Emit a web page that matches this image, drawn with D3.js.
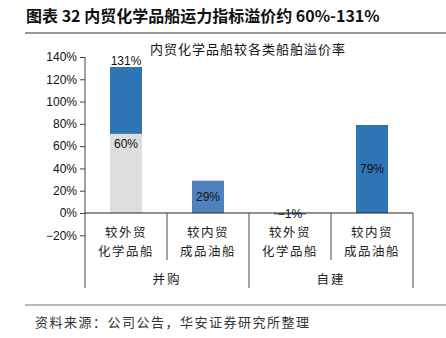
<!DOCTYPE html>
<html>
<head>
<meta charset="utf-8">
<script src="https://cdn.jsdelivr.net/npm/d3@7"></script>
<style>
  html, body { margin: 0; padding: 0; background: #fff; }
  svg { display: block; }
</style>
</head>
<body>
<svg id="chart" width="446" height="338"></svg>
<script>
// Premium of domestic chemical tankers over other vessel types
const categories = ["较外贸\n化学品船", "较内贸\n成品油船", "较外贸\n化学品船", "较内贸\n成品油船"];
const groups = ["并购", "自建"];
const groupOf = [0, 0, 1, 1];
const baseValues = [71, 0, 0, 0];      // grey lower segment
const premiumValues = [60, 29, -1, 79]; // blue segment
const barColors = ["#2e75b6", "#4f81bd", "#5b8fd0", "#2e75b6"];
const yTicks = [-20, 0, 20, 40, 60, 80, 100, 120, 140];

const svg = d3.select("#chart");
const cjk = "'Noto Sans CJK SC', 'Noto Sans', sans-serif";
const latin = "'Liberation Sans', Arial, sans-serif";

// Header
svg.append("text")
  .attr("x", 26).attr("y", 22)
  .attr("font-family", cjk).attr("font-weight", "bold")
  .attr("font-size", 16).attr("fill", "#111")
  .text("图表 32 内贸化学品船运力指标溢价约 60%-131%");
svg.append("line")
  .attr("x1", 25).attr("x2", 446).attr("y1", 33).attr("y2", 33)
  .attr("stroke", "#333").attr("stroke-width", 1.2);

// Footer
svg.append("line")
  .attr("x1", 25).attr("x2", 446).attr("y1", 305).attr("y2", 305)
  .attr("stroke", "#777").attr("stroke-width", 1.2);
svg.append("text")
  .attr("x", 35).attr("y", 327)
  .attr("font-family", cjk).attr("font-size", 13).attr("fill", "#333")
  .attr("letter-spacing", 1.5)
  .text("资料来源：公司公告，华安证券研究所整理");

// Chart title
svg.append("text")
  .attr("x", 248).attr("y", 54).attr("text-anchor", "middle")
  .attr("font-family", cjk).attr("font-size", 13).attr("fill", "#111")
  .attr("letter-spacing", 1)
  .text("内贸化学品船较各类船舶溢价率");

const x = d3.scaleBand().domain(d3.range(categories.length)).range([85, 413]).paddingInner(0).paddingOuter(0);
const y = d3.scaleLinear().domain([-20, 140]).range([235.3, 57]);
const barW = 32;

// Y axis
const yAxis = d3.axisLeft(y).tickValues(yTicks).tickSize(5).tickPadding(3)
  .tickFormat(d => (d < 0 ? "\u2212" + Math.abs(d) : d) + "%");
const gy = svg.append("g").attr("transform", "translate(85,0)").call(yAxis);
gy.select(".domain").remove();
gy.selectAll(".tick line").attr("stroke", "#444");
gy.selectAll(".tick text").attr("font-family", latin).attr("font-size", 12).attr("fill", "#111");
svg.append("line").attr("x1", 85).attr("x2", 85).attr("y1", y(140)).attr("y2", 288)
  .attr("stroke", "#444").attr("stroke-width", 1);

// Bars
const idx = d3.range(categories.length);
const cx = i => x(i) + x.bandwidth() / 2;
svg.selectAll("rect.base").data(idx.filter(i => baseValues[i] > 0)).join("rect")
  .attr("class", "base")
  .attr("x", i => cx(i) - barW / 2).attr("width", barW)
  .attr("y", i => y(baseValues[i])).attr("height", i => y(0) - y(baseValues[i]))
  .attr("fill", "#dedede");
svg.selectAll("rect.prem").data(idx).join("rect")
  .attr("class", "prem")
  .attr("x", i => cx(i) - barW / 2).attr("width", barW)
  .attr("y", i => y(Math.max(baseValues[i], baseValues[i] + premiumValues[i])))
  .attr("height", i => Math.max(1.5, Math.abs(y(baseValues[i]) - y(baseValues[i] + premiumValues[i]))))
  .attr("fill", i => barColors[i]);

// Zero line and category separators
svg.append("line").attr("x1", 85).attr("x2", 413).attr("y1", y(0)).attr("y2", y(0))
  .attr("stroke", "#222").attr("stroke-width", 1.2);
idx.forEach(i => {
  const xr = x(i) + x.bandwidth();
  const groupEnd = i === categories.length - 1 || groupOf[i] !== groupOf[i + 1];
  svg.append("line").attr("x1", xr).attr("x2", xr).attr("y1", y(0)).attr("y2", groupEnd ? 288 : 260)
    .attr("stroke", "#444").attr("stroke-width", 1);
});

// Value labels
const labels = svg.append("g").attr("font-family", latin).attr("font-size", 12).attr("fill", "#111")
  .attr("text-anchor", "middle");
idx.forEach(i => {
  if (baseValues[i] > 0) {
    labels.append("text").attr("x", cx(i)).attr("y", y(baseValues[i] + premiumValues[i]) - 2)
      .text((baseValues[i] + premiumValues[i]) + "%");
    labels.append("text").attr("x", cx(i)).attr("y", y(baseValues[i]) + 14)
      .text(premiumValues[i] + "%");
  } else {
    labels.append("text").attr("x", cx(i)).attr("y", (y(0) + y(premiumValues[i])) / 2 + 4.5)
      .text((premiumValues[i] < 0 ? "\u2212" + Math.abs(premiumValues[i]) : premiumValues[i]) + "%");
  }
});

// Category labels
idx.forEach(i => {
  const lines = categories[i].split("\n");
  lines.forEach((t, k) => {
    svg.append("text").attr("x", cx(i)).attr("y", 237 + k * 19).attr("text-anchor", "middle")
      .attr("font-family", cjk).attr("font-size", 12.5).attr("fill", "#222").attr("letter-spacing", 1.5)
      .text(t);
  });
});
groups.forEach((g, gi) => {
  const members = idx.filter(i => groupOf[i] === gi);
  const gx = (x(members[0]) + x(members[members.length - 1]) + x.bandwidth()) / 2;
  svg.append("text").attr("x", gx).attr("y", 284).attr("text-anchor", "middle")
    .attr("font-family", cjk).attr("font-size", 12.5).attr("fill", "#222").attr("letter-spacing", 2)
    .text(g);
});
</script>
</body>
</html>
